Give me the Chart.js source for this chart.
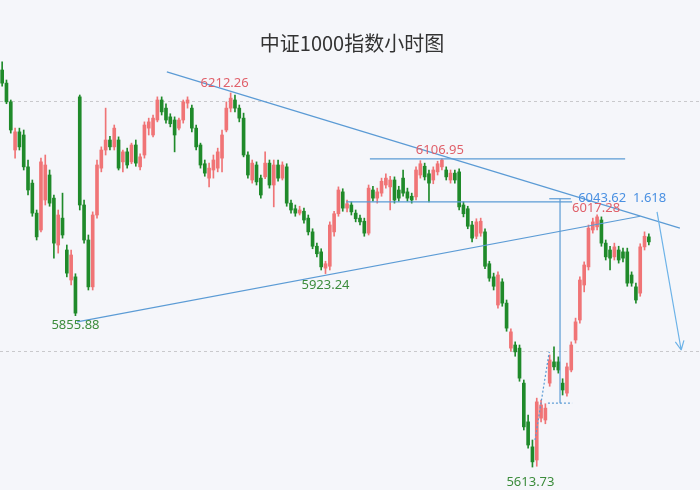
<!DOCTYPE html>
<html>
<head>
<meta charset="utf-8">
<script src="https://cdn.jsdelivr.net/npm/chart.js@4.4.1/dist/chart.umd.min.js"></script>
<style>
  html, body { margin: 0; padding: 0; background: #f5f6fa; }
  #wrap { width: 700px; height: 490px; }
</style>
</head>
<body>
<div id="wrap"><canvas id="kline"></canvas></div>
<script>
// hourly candles
const openP = [
  6249, 6228, 6198, 6121, 6150, 6145, 6094, 6068, 6020, 5993,
  6041, 6081, 6044, 5969, 6012, 5961, 5913, 5918, 6206, 6033,
  5977, 5902, 6017, 6092, 6121, 6137, 6126, 6137, 6102, 6118,
  6102, 6129, 6094, 6113, 6156, 6145, 6169, 6201, 6188, 6174,
  6169, 6156, 6169, 6196, 6188, 6156, 6129, 6099, 6076, 6089,
  6092, 6108, 6153, 6188, 6201, 6188, 6172, 6113, 6073, 6097,
  6076, 6078, 6100, 6065, 6097, 6076, 6094, 6036, 6027, 6020,
  6023, 6012, 5990, 5967, 5958, 5932, 5935, 5990, 6019, 6054,
  6028, 6033, 6020, 6012, 6007, 5988, 6057, 6044, 6052, 6065,
  6062, 6073, 6057, 6076, 6054, 6047, 6046, 6081, 6095, 6083,
  6073, 6086, 6094, 6089, 6073, 6084, 6086, 6033, 6027, 6001,
  5983, 5988, 5990, 5939, 5918, 5873, 5910, 5876, 5804, 5809,
  5804, 5748, 5686, 5646, 5625, 5692, 5689, 5748, 5782, 5782,
  5748, 5732, 5769, 5817, 5849, 5905, 5934, 5993, 5998, 6009,
  5972, 5961, 5950, 5961, 5958, 5958, 5921, 5902, 5892, 5966,
  5982
];
const highP = [
  6262, 6233, 6201, 6156, 6156, 6153, 6105, 6073, 6025, 6108,
  6113, 6089, 6049, 6025, 6052, 5969, 5961, 5923, 6209, 6041,
  5985, 6022, 6105, 6126, 6188, 6143, 6161, 6142, 6121, 6124,
  6132, 6137, 6115, 6166, 6172, 6177, 6206, 6206, 6195, 6179,
  6174, 6172, 6201, 6206, 6193, 6161, 6132, 6105, 6100, 6113,
  6124, 6153, 6198, 6212.26, 6209, 6193, 6180, 6118, 6105, 6102,
  6081, 6118, 6105, 6105, 6105, 6102, 6099, 6041, 6033, 6031,
  6028, 6017, 5995, 5972, 5963, 5943, 6006, 6023, 6062, 6059,
  6041, 6038, 6025, 6017, 6012, 6065, 6063, 6060, 6076, 6083,
  6079, 6078, 6063, 6089, 6060, 6052, 6094, 6104, 6100, 6089,
  6094, 6103, 6106.95, 6094, 6089, 6089, 6091, 6038, 6031, 6007,
  6011, 6012, 5995, 5943, 5924, 5926, 5915, 5881, 5835, 5814,
  5809, 5753, 5697, 5657, 5724, 5721, 5715, 5793, 5806, 5790,
  5755, 5780, 5814, 5852, 5918, 5942, 6001, 6012, 6017.28, 6014,
  5977, 5967, 5972, 5967, 5964, 5964, 5926, 5908, 5971, 5990,
  5987
];
const lowP = [
  6223, 6195, 6148, 6108, 6121, 6089, 6049, 6015, 5977, 5990,
  6033, 6031, 5948, 5956, 5980, 5918, 5905, 5855.88, 6025, 5972,
  5897, 5897, 6012, 6086, 6113, 6121, 6121, 6089, 6086, 6092,
  6099, 6095, 6089, 6108, 6145, 6142, 6166, 6177, 6164, 6158,
  6118, 6153, 6164, 6188, 6150, 6121, 6092, 6079, 6062, 6076,
  6086, 6086, 6150, 6182, 6182, 6166, 6110, 6076, 6068, 6065,
  6044, 6075, 6060, 6030, 6071, 6073, 6031, 6020, 6015, 6017,
  6004, 5985, 5963, 5950, 5929, 5923.24, 5929, 5983, 6015, 6023,
  6022, 6017, 6006, 6001, 5983, 5985, 6039, 6036, 6047, 6060,
  6025, 6036, 6039, 6047, 6039, 6036, 6041, 6076, 6073, 6038,
  6067, 6081, 6089, 6073, 6068, 6068, 6025, 6014, 5995, 5974,
  5979, 5983, 5931, 5911, 5897, 5868, 5871, 5831, 5799, 5791,
  5751, 5673, 5644, 5613.73, 5615, 5686, 5683, 5743, 5769, 5764,
  5729, 5727, 5766, 5812, 5844, 5894, 5929, 5988, 5993, 5967,
  5945, 5929, 5945, 5940, 5942, 5903, 5903, 5876, 5887, 5961,
  5969
];
const closeP = [
  6228, 6198, 6153, 6150, 6126, 6094, 6057, 6020, 5982, 6102,
  6097, 6036, 5972, 6017, 5985, 5924, 5953, 5860, 6033, 5977,
  5902, 6017, 6097, 6121, 6137, 6126, 6156, 6092, 6118, 6097,
  6129, 6100, 6110, 6161, 6166, 6172, 6201, 6182, 6169, 6163,
  6145, 6169, 6198, 6201, 6156, 6126, 6097, 6084, 6092, 6105,
  6118, 6145, 6188, 6204, 6188, 6172, 6113, 6081, 6100, 6070,
  6049, 6100, 6065, 6097, 6076, 6097, 6036, 6025, 6020, 6025,
  6009, 5990, 5967, 5955, 5934, 5939, 6001, 6019, 6057, 6028,
  6035, 6022, 6011, 6006, 5988, 6060, 6044, 6054, 6071, 6076,
  6073, 6041, 6044, 6052, 6044, 6041, 6089, 6099, 6078, 6068,
  6089, 6099, 6105, 6078, 6084, 6073, 6030, 6019, 5999, 5980,
  6006, 6007, 5935, 5916, 5903, 5921, 5876, 5836, 5830, 5798,
  5756, 5678, 5649, 5622, 5718, 5713, 5708, 5785, 5774, 5769,
  5737, 5774, 5809, 5846, 5913, 5937, 5996, 6006, 6014, 5972,
  5950, 5948, 5966, 5945, 5948, 5908, 5908, 5881, 5966, 5983,
  5974
];
const gridLevels = [6200, 5800];
const fibLevel = 6043.62;
const fibRatio = '1.618';
const titleText = '中证1000指数小时图';

// marked highs / lows: candle index, which price, where the text sits
const marks = [
  { i: 53, src: 'high', dx: -6, dy: -10 },
  { i: 102, src: 'high', dx: -2, dy: -8 },
  { i: 138, src: 'high', dx: -1, dy: -7 },
  { i: 75, src: 'low', dx: 0, dy: 12 },
  { i: 17, src: 'low', dx: 0, dy: 10 },
  { i: 123, src: 'low', dx: -2, dy: 15 }
];

// drawn lines, in (candle index, price)
const drawnLines = [
  { pts: [[38.2, 6246], [157.2, 5996]] },
  { pts: [[17.4, 5846], [148.0, 6015]] },
  { pts: [[85.3, 6106.95], [144.5, 6106.95]] },
  { pts: [[79.8, 6038], [132.2, 6038]] },
  { pts: [[129.4, 6043], [129.4, 5716]] },
  { pts: [[126.9, 6043], [131.9, 6043]] },
  { pts: [[126.6, 5716], [132.2, 5716]], dash: [2, 2] },
  { pts: [[123.6, 5657], [126.9, 5798]], dash: [2, 2] }
];
const arrowPts = [[151.9, 6022], [157.5, 5801]];

const UP = '#f07476';
const DOWN = '#1f8a2a';
const candleColors = closeP.map((c, i) => c >= openP[i] ? UP : DOWN);
const labels = closeP.map((_, i) => i);
const bodies = closeP.map((c, i) => [Math.min(openP[i], c), Math.max(openP[i], c)]);
const wicks = closeP.map((_, i) => [lowP[i], highP[i]]);

const overlay = {
    id: 'overlay',
    beforeDraw(chart) {
        const ctx = chart.ctx;
        ctx.save();
        ctx.fillStyle = '#f5f6fa';
        ctx.fillRect(0, 0, chart.width, chart.height);
        ctx.fillStyle = '#333333';
        ctx.font = '20px "Noto Sans CJK SC", sans-serif';
        ctx.textAlign = 'center';
        ctx.textBaseline = 'middle';
        ctx.fillText(titleText, 352, 43);
        ctx.restore();
    },
    beforeDatasetsDraw(chart) {
        const ctx = chart.ctx;
        const y = chart.scales.y;
        ctx.save();
        ctx.strokeStyle = '#c9c9cc';
        ctx.lineWidth = 1;
        ctx.setLineDash([3, 3]);
        gridLevels.forEach(v => {
            const py = Math.round(y.getPixelForValue(v)) + 0.5;
            ctx.beginPath();
            ctx.moveTo(0, py);
            ctx.lineTo(chart.width, py);
            ctx.stroke();
        });
        ctx.restore();
    },
    afterDatasetsDraw(chart) {
        const ctx = chart.ctx;
        const x = chart.scales.x;
        const y = chart.scales.y;
        const px = p => [x.getPixelForValue(p[0]), y.getPixelForValue(p[1])];
        ctx.save();
        ctx.lineWidth = 1.2;
        ctx.strokeStyle = '#5b9bd5';
        drawnLines.forEach(l => {
            const a = px(l.pts[0]), b = px(l.pts[1]);
            ctx.setLineDash(l.dash || []);
            ctx.beginPath();
            ctx.moveTo(a[0], a[1]);
            ctx.lineTo(b[0], b[1]);
            ctx.stroke();
        });
        ctx.setLineDash([]);

        // target arrow
        const a = px(arrowPts[0]), b = px(arrowPts[1]);
        ctx.strokeStyle = '#6db3e8';
        ctx.beginPath();
        ctx.moveTo(a[0], a[1]);
        ctx.lineTo(b[0], b[1]);
        const ang = Math.atan2(b[1] - a[1], b[0] - a[0]);
        [0.45, -0.45].forEach(d => {
            ctx.moveTo(b[0], b[1]);
            ctx.lineTo(b[0] - 10 * Math.cos(ang + d), b[1] - 10 * Math.sin(ang + d));
        });
        ctx.stroke();

        ctx.font = '13px "Noto Sans", sans-serif';
        ctx.textBaseline = 'middle';
        ctx.textAlign = 'center';
        marks.forEach(m => {
            const v = m.src === 'high' ? highP[m.i] : lowP[m.i];
            ctx.fillStyle = m.src === 'high' ? '#e0606a' : '#3c8c3c';
            ctx.fillText(v.toFixed(2), x.getPixelForValue(m.i) + m.dx, y.getPixelForValue(v) + m.dy);
        });

        ctx.textAlign = 'left';
        ctx.fillStyle = '#4a90e2';
        ctx.fillText(fibLevel.toFixed(2) + '  ' + fibRatio, x.getPixelForValue(133.6), y.getPixelForValue(fibLevel));
        ctx.restore();
    }
};

new Chart(document.getElementById('kline'), {
    type: 'bar',
    data: {
        labels: labels,
        datasets: [
            {
                label: 'body',
                data: bodies,
                backgroundColor: candleColors,
                barThickness: 3,
                minBarLength: 1,
                grouped: false
            },
            {
                label: 'wick',
                data: wicks,
                backgroundColor: candleColors,
                barThickness: 1,
                grouped: false
            }
        ]
    },
    options: {
        responsive: true,
        maintainAspectRatio: false,
        animation: false,
        layout: {
            padding: { left: 0, right: 49, top: 60, bottom: 0 }
        },
        plugins: {
            legend: { display: false },
            tooltip: { enabled: false }
        },
        scales: {
            x: { display: false },
            y: { display: false, min: 5577, max: 6265 }
        }
    },
    plugins: [overlay]
});
</script>
</body>
</html>
